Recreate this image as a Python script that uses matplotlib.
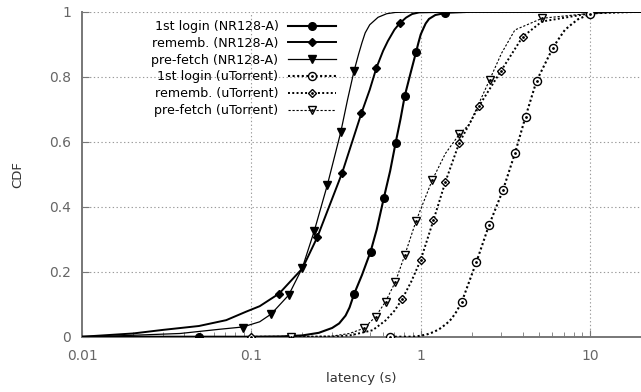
import matplotlib
matplotlib.use("Agg")
import matplotlib.pyplot as plt
from matplotlib.lines import Line2D

# ---------------- data ----------------
labels = ["1st login (NR128-A)", "rememb. (NR128-A)", "pre-fetch (NR128-A)",
          "1st login (uTorrent)", "rememb. (uTorrent)", "pre-fetch (uTorrent)"]

# 1st login (NR128-A)
login_nr_x = [0.01, 0.05, 0.1, 0.15, 0.2, 0.25, 0.3, 0.33, 0.36, 0.38, 0.404, 0.45, 0.506, 0.55,
              0.605, 0.66, 0.71, 0.76, 0.805, 0.87, 0.94, 0.97, 1.0, 1.04, 1.07, 1.12, 1.22,
              1.42, 2.0, 20]
login_nr_y = [0.0, 0.0, 0.0, 0.001, 0.004, 0.012, 0.027, 0.041, 0.065, 0.09, 0.131, 0.19, 0.262,
              0.33, 0.426, 0.51, 0.595, 0.67, 0.741, 0.81, 0.877, 0.905, 0.93, 0.95, 0.964,
              0.978, 0.99, 0.997, 1.0, 1.0]
login_nr_mx = [0.0488, 0.404, 0.506, 0.605, 0.71, 0.805, 0.94, 1.40]
login_nr_my = [0.0, 0.131, 0.262, 0.426, 0.595, 0.741, 0.877, 0.995]

# rememb. (NR128-A)
rem_nr_x = [0.01, 0.02, 0.03, 0.049, 0.071, 0.093, 0.112, 0.146, 0.2, 0.245, 0.344, 0.446,
            0.5, 0.548, 0.6, 0.64, 0.7, 0.75, 0.82, 0.89, 0.98, 1.5, 20]
rem_nr_y = [0.0, 0.010, 0.021, 0.033, 0.051, 0.077, 0.094, 0.133, 0.21, 0.306, 0.505, 0.687,
            0.76, 0.828, 0.88, 0.91, 0.945, 0.964, 0.982, 0.993, 0.998, 1.0, 1.0]
rem_nr_mx = [0.146, 0.245, 0.344, 0.446, 0.548, 0.75]
rem_nr_my = [0.133, 0.306, 0.505, 0.687, 0.828, 0.964]

# pre-fetch (NR128-A)
pre_nr_x = [0.01, 0.015, 0.038, 0.065, 0.089, 0.112, 0.131, 0.166, 0.2, 0.235, 0.281, 0.337,
            0.37, 0.404, 0.43, 0.45, 0.47, 0.5, 0.56, 0.63, 0.71, 1.0, 20]
pre_nr_y = [0.0, 0.002, 0.010, 0.023, 0.030, 0.046, 0.070, 0.128, 0.212, 0.325, 0.467, 0.629,
            0.73, 0.818, 0.87, 0.905, 0.935, 0.96, 0.983, 0.994, 0.998, 1.0, 1.0]
pre_nr_mx = [0.089, 0.131, 0.166, 0.2, 0.235, 0.281, 0.337, 0.404]
pre_nr_my = [0.028, 0.070, 0.128, 0.212, 0.325, 0.467, 0.629, 0.818]

# 1st login (uTorrent)
login_ut_x = [0.66, 0.9, 1.0, 1.1, 1.2, 1.3, 1.42, 1.52, 1.63, 1.75, 2.13, 2.53, 3.06, 3.60,
              4.16, 4.83, 6.05, 6.5, 7.1, 7.8, 8.5, 10, 11.5, 13, 20]
login_ut_y = [0.0, 0.0, 0.003, 0.008, 0.015, 0.025, 0.04, 0.055, 0.078, 0.108, 0.229, 0.343,
              0.451, 0.564, 0.677, 0.787, 0.890, 0.915, 0.944, 0.962, 0.977, 0.993, 0.998,
              1.0, 1.0]
login_ut_mx = [0.66, 1.75, 2.13, 2.53, 3.06, 3.60, 4.16, 4.83, 6.05, 10]
login_ut_my = [0.0, 0.108, 0.229, 0.343, 0.451, 0.564, 0.677, 0.787, 0.890, 0.993]

# rememb. (uTorrent)
rem_ut_x = [0.1, 0.3, 0.39, 0.52, 0.62, 0.7, 0.776, 0.88, 1.0, 1.19, 1.40, 1.69, 2.21, 2.98,
            4.0, 5.2, 10, 20]
rem_ut_y = [0.0, 0.0, 0.005, 0.02, 0.05, 0.08, 0.115, 0.17, 0.236, 0.359, 0.477, 0.597, 0.710,
            0.818, 0.923, 0.97, 0.995, 1.0]
rem_ut_mx = [0.1, 0.776, 1.0, 1.19, 1.40, 1.69, 2.21, 2.98, 4.0]
rem_ut_my = [0.0, 0.115, 0.236, 0.359, 0.477, 0.597, 0.710, 0.818, 0.923]

# pre-fetch (uTorrent)
pre_ut_x = [0.1, 0.171, 0.3, 0.38, 0.462, 0.542, 0.620, 0.709, 0.805, 0.940, 1.17, 1.40, 1.69,
            1.94, 2.55, 3.0, 3.6, 5.22, 10, 20]
pre_ut_y = [0.0, 0.0, 0.002, 0.01, 0.026, 0.062, 0.108, 0.169, 0.251, 0.357, 0.482, 0.564, 0.623,
            0.654, 0.79, 0.872, 0.944, 0.98, 0.995, 1.0]
pre_ut_mx = [0.171, 0.462, 0.542, 0.620, 0.709, 0.805, 0.940, 1.17, 1.69, 2.55, 5.22]
pre_ut_my = [0.0, 0.026, 0.062, 0.108, 0.169, 0.251, 0.357, 0.482, 0.623, 0.79, 0.98]

xticks = [0.01, 0.1, 1, 10]
xticklabels = ["0.01", "0.1", "1", "10"]
yticks = [0, 0.2, 0.4, 0.6, 0.8, 1]
yticklabels = ["0", "0.2", "0.4", "0.6", "0.8", "1"]

# ---------------- figure ----------------
fig = plt.figure(figsize=(6.41, 3.92), dpi=100)
ax = fig.add_axes([0.128, 0.141, 0.872, 0.829])

ax.set_xscale("log")
ax.set_xlim(0.01, 20)
ax.set_ylim(0, 1)

gridc = "#9a9a9a"
for xv in [0.1, 1, 10]:
    ax.axvline(xv, color=gridc, lw=0.8, ls=(0, (1.2, 2.2)), zorder=0.5)
for yv in [0.2, 0.4, 0.6, 0.8, 1.0]:
    ax.axhline(yv, color=gridc, lw=0.8, ls=(0, (1.2, 2.2)), zorder=0.5)

series = [
    (login_nr_x, login_nr_y, login_nr_mx, login_nr_my, dict(ls="-", lw=1.5), dict(marker="o", ms=5.5, mfc="black"), False),
    (rem_nr_x, rem_nr_y, rem_nr_mx, rem_nr_my, dict(ls="-", lw=1.4), dict(marker="D", ms=3.8, mfc="black"), False),
    (pre_nr_x, pre_nr_y, pre_nr_mx, pre_nr_my, dict(ls="-", lw=0.9), dict(marker="v", ms=5.2, mfc="black"), False),
    (login_ut_x, login_ut_y, login_ut_mx, login_ut_my, dict(ls=(0, (1, 1.2)), lw=1.5), dict(marker="o", ms=5.8, mfc="white"), True),
    (rem_ut_x, rem_ut_y, rem_ut_mx, rem_ut_my, dict(ls=(0, (1, 1.2)), lw=1.4), dict(marker="D", ms=4.0, mfc="white"), True),
    (pre_ut_x, pre_ut_y, pre_ut_mx, pre_ut_my, dict(ls=(0, (2, 1.6)), lw=0.8), dict(marker="v", ms=5.5, mfc="white"), True),
]

handles = []
for (lx, ly, mx, my, lst, mst, hollow) in series:
    ax.plot(lx, ly, color="black", zorder=3, **lst)
    ax.plot(mx, my, ls="none", mec="black", mew=1.0, zorder=4, **mst)
    if hollow:
        ax.plot(mx, my, ls="none", marker=".", ms=2, color="black", zorder=5)
        h = (Line2D([], [], color="black", mec="black", mew=1.0, **lst, **mst),
             Line2D([], [], ls="none", marker=".", ms=2, color="black"))
    else:
        h = Line2D([], [], color="black", mec="black", mew=1.0, **lst, **mst)
    handles.append(h)

leg = fig.legend(handles, labels, loc="upper right", bbox_to_anchor=(336 / 641, 1 - 20 / 392),
                 frameon=False, markerfirst=False, fontsize=9.1, handlelength=3.8,
                 handletextpad=0.75, labelspacing=0.3, borderpad=0, borderaxespad=0)

# spines and ticks
spc = "#777777"
for s in ["top", "right"]:
    ax.spines[s].set_visible(False)
for s in ["left", "bottom"]:
    ax.spines[s].set_color(spc)
    ax.spines[s].set_linewidth(1.4)
    ax.spines[s].set_zorder(2)

ax.set_xticks(xticks)
ax.set_xticklabels(xticklabels)
ax.set_yticks(yticks)
ax.set_yticklabels(yticklabels)
ax.tick_params(axis="both", which="major", direction="in", length=5, color=spc,
               labelcolor="#666666", labelsize=10)
ax.tick_params(axis="x", which="major", pad=8.5)
ax.tick_params(axis="x", which="minor", direction="in", length=3.5, color=spc)
ax.tick_params(axis="y", which="major", pad=8)

ax.set_xlabel("latency (s)", fontsize=9.5, color="#333333", labelpad=7)
ax.set_ylabel("CDF", fontsize=9.5, color="#333333", labelpad=18)

fig.savefig("out.png", dpi=100)
